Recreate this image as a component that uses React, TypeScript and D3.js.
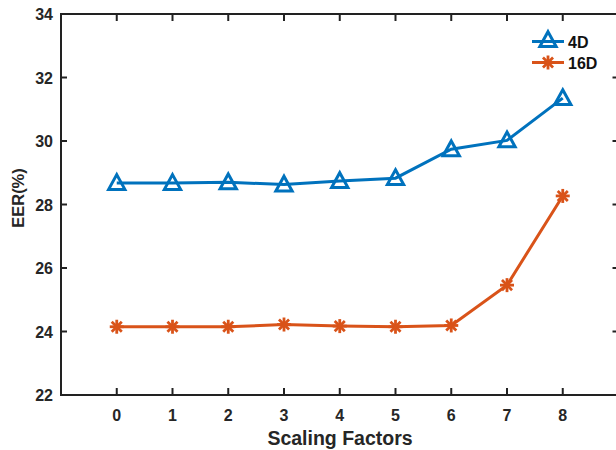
import React from "react";
import * as d3 from "d3";

const factors = [0, 1, 2, 3, 4, 5, 6, 7, 8];
const eer4D = [28.68, 28.68, 28.7, 28.63, 28.74, 28.83, 29.74, 30.02, 31.35];
const eer16D = [24.15, 24.15, 24.15, 24.22, 24.17, 24.15, 24.19, 25.46, 28.27];
const yTicks = [22, 24, 26, 28, 30, 32, 34];
const seriesNames = ["4D", "16D"];

const W = 616;
const H = 450;
const left = 61;
const top = 14;
const bottom = 395;
const x = d3.scaleLinear().domain([-1, 9]).range([61, 618.5]);
const y = d3.scaleLinear().domain([22, 34]).range([bottom, top]);

const BLUE = "#0072BD";
const ORANGE = "#D95319";
const FONT = "'Liberation Sans', Arial, sans-serif";

function Triangle({ cx, cy }: { cx: number; cy: number }) {
  const s = 8.3;
  const pts = [
    [cx, cy - s],
    [cx + s * 0.98, cy + s * 0.78],
    [cx - s * 0.98, cy + s * 0.78],
  ];
  return (
    <polygon
      points={pts.map((p) => p.join(",")).join(" ")}
      fill="none"
      stroke={BLUE}
      strokeWidth={3}
      strokeLinejoin="miter"
    />
  );
}

function Asterisk({ cx, cy }: { cx: number; cy: number }) {
  const r = 7;
  const d = r * 0.72;
  return (
    <g stroke={ORANGE} strokeWidth={2.8}>
      <line x1={cx - r} y1={cy} x2={cx + r} y2={cy} />
      <line x1={cx} y1={cy - r} x2={cx} y2={cy + r} />
      <line x1={cx - d} y1={cy - d} x2={cx + d} y2={cy + d} />
      <line x1={cx - d} y1={cy + d} x2={cx + d} y2={cy - d} />
    </g>
  );
}

export default function App() {
  const line = d3
    .line<number>()
    .x((_, i) => x(factors[i]))
    .y((v) => y(v));
  const xTickLen = 7;
  return (
    <svg
      width={W}
      height={H}
      style={{ position: "absolute", left: 0, top: 0, background: "#fff" }}
      fontFamily={FONT}
    >
      <rect x={0} y={0} width={W} height={H} fill="#fff" />
      {/* axes box */}
      <g stroke="#222" strokeWidth={2} fill="none">
        <line x1={left} y1={top} x2={x(9)} y2={top} />
        <line x1={left} y1={bottom} x2={x(9)} y2={bottom} />
        <line x1={left} y1={top - 1} x2={left} y2={bottom + 1} />
        <line x1={x(9)} y1={top} x2={x(9)} y2={bottom} />
      </g>
      {/* x ticks */}
      {factors.map((f) => (
        <g key={"xt" + f}>
          <line x1={x(f)} x2={x(f)} y1={bottom} y2={bottom - xTickLen} stroke="#222" strokeWidth={2} />
          <line x1={x(f)} x2={x(f)} y1={top} y2={top + xTickLen} stroke="#222" strokeWidth={2} />
          <text
            x={x(f)}
            y={421}
            textAnchor="middle"
            fontSize={16}
            fontWeight="bold"
            fill="#262626"
          >
            {f}
          </text>
        </g>
      ))}
      {/* y ticks */}
      {yTicks.map((t) => (
        <g key={"yt" + t}>
          <line x1={left} x2={left + 6} y1={y(t)} y2={y(t)} stroke="#222" strokeWidth={2} />
          <line x1={x(9)} x2={x(9) - 6} y1={y(t)} y2={y(t)} stroke="#222" strokeWidth={2} />
          <text
            x={53}
            y={y(t) + 6}
            textAnchor="end"
            fontSize={16}
            fontWeight="bold"
            fill="#262626"
          >
            {t}
          </text>
        </g>
      ))}
      {/* axis labels */}
      <text x={340} y={445} textAnchor="middle" fontSize={19.5} fontWeight="bold" fill="#262626">
        Scaling Factors
      </text>
      <text
        transform={`translate(24,${198}) rotate(-90)`}
        textAnchor="middle"
        fontSize={16.5}
        fontWeight="bold"
        fill="#262626"
      >
        EER(%)
      </text>
      {/* series */}
      <path d={line(eer4D) || ""} fill="none" stroke={BLUE} strokeWidth={3} />
      <path d={line(eer16D) || ""} fill="none" stroke={ORANGE} strokeWidth={3} />
      {eer4D.map((v, i) => (
        <Triangle key={"t" + i} cx={x(factors[i])} cy={y(v)} />
      ))}
      {eer16D.map((v, i) => (
        <Asterisk key={"a" + i} cx={x(factors[i])} cy={y(v)} />
      ))}
      {/* legend */}
      <g>
        <line x1={532} x2={564} y1={41.5} y2={41.5} stroke={BLUE} strokeWidth={3} />
        <Triangle cx={548} cy={40} />
        <text x={568} y={47.5} fontSize={16} fontWeight="bold" fill="#111">
          {seriesNames[0]}
        </text>
        <line x1={532} x2={564} y1={62.5} y2={62.5} stroke={ORANGE} strokeWidth={3} />
        <Asterisk cx={548} cy={62.5} />
        <text x={568} y={68.5} fontSize={16} fontWeight="bold" fill="#111">
          {seriesNames[1]}
        </text>
      </g>
    </svg>
  );
}
